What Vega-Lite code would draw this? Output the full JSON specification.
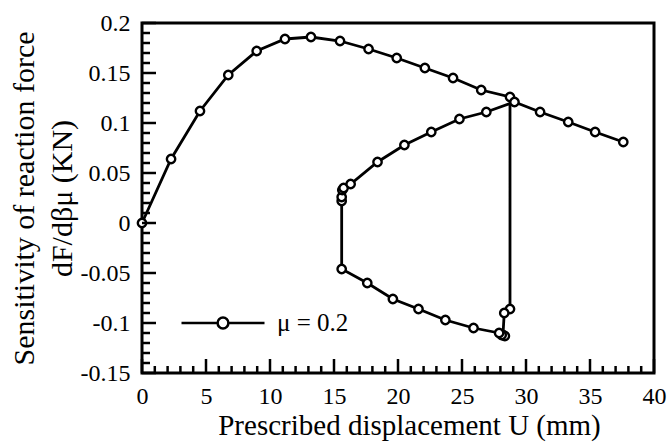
{
  "$schema": "https://vega.github.io/schema/vega-lite/v6.json",
  "autosize": "none",
  "padding": {"left": 142, "top": 23, "right": 16, "bottom": 69},
  "width": 512,
  "height": 350,
  "background": "white",
  "config": {
    "view": {"stroke": "black", "strokeWidth": 3, "fill": null},
    "font": "Liberation Serif",
    "axis": {"domain": false, "ticks": false, "labelColor": "black", "titleColor": "black", "grid": false, "labelFont": "Liberation Serif", "titleFont": "Liberation Serif", "titleFontWeight": "normal"}
  },
  "datasets": {
    "curve": [
      {"order": 1, "u": 0, "s": 0, "series": "μ = 0.2"},
      {"order": 2, "u": 2.27, "s": 0.064, "series": "μ = 0.2"},
      {"order": 3, "u": 4.53, "s": 0.112, "series": "μ = 0.2"},
      {"order": 4, "u": 6.74, "s": 0.148, "series": "μ = 0.2"},
      {"order": 5, "u": 8.96, "s": 0.172, "series": "μ = 0.2"},
      {"order": 6, "u": 11.17, "s": 0.184, "series": "μ = 0.2"},
      {"order": 7, "u": 13.2, "s": 0.186, "series": "μ = 0.2"},
      {"order": 8, "u": 15.47, "s": 0.182, "series": "μ = 0.2"},
      {"order": 9, "u": 17.7, "s": 0.174, "series": "μ = 0.2"},
      {"order": 10, "u": 19.9, "s": 0.165, "series": "μ = 0.2"},
      {"order": 11, "u": 22.1, "s": 0.155, "series": "μ = 0.2"},
      {"order": 12, "u": 24.3, "s": 0.145, "series": "μ = 0.2"},
      {"order": 13, "u": 26.5, "s": 0.133, "series": "μ = 0.2"},
      {"order": 14, "u": 28.75, "s": 0.126, "series": "μ = 0.2"},
      {"order": 15, "u": 28.75, "s": -0.086, "series": "μ = 0.2"},
      {"order": 16, "u": 28.3, "s": -0.09, "series": "μ = 0.2"},
      {"order": 17, "u": 28.2, "s": -0.112, "series": "μ = 0.2"},
      {"order": 18, "u": 28.35, "s": -0.113, "series": "μ = 0.2"},
      {"order": 19, "u": 28.1, "s": -0.112, "series": "μ = 0.2"},
      {"order": 20, "u": 27.9, "s": -0.11, "series": "μ = 0.2"},
      {"order": 21, "u": 25.9, "s": -0.105, "series": "μ = 0.2"},
      {"order": 22, "u": 23.7, "s": -0.097, "series": "μ = 0.2"},
      {"order": 23, "u": 21.6, "s": -0.086, "series": "μ = 0.2"},
      {"order": 24, "u": 19.6, "s": -0.076, "series": "μ = 0.2"},
      {"order": 25, "u": 17.6, "s": -0.06, "series": "μ = 0.2"},
      {"order": 26, "u": 15.6, "s": -0.046, "series": "μ = 0.2"},
      {"order": 27, "u": 15.6, "s": 0.022, "series": "μ = 0.2"},
      {"order": 28, "u": 15.6, "s": 0.026, "series": "μ = 0.2"},
      {"order": 29, "u": 15.65, "s": 0.033, "series": "μ = 0.2"},
      {"order": 30, "u": 15.75, "s": 0.035, "series": "μ = 0.2"},
      {"order": 31, "u": 16.3, "s": 0.039, "series": "μ = 0.2"},
      {"order": 32, "u": 18.4, "s": 0.061, "series": "μ = 0.2"},
      {"order": 33, "u": 20.5, "s": 0.078, "series": "μ = 0.2"},
      {"order": 34, "u": 22.6, "s": 0.091, "series": "μ = 0.2"},
      {"order": 35, "u": 24.8, "s": 0.104, "series": "μ = 0.2"},
      {"order": 36, "u": 26.9, "s": 0.111, "series": "μ = 0.2"},
      {"order": 37, "u": 29.1, "s": 0.121, "series": "μ = 0.2"},
      {"order": 38, "u": 31.1, "s": 0.111, "series": "μ = 0.2"},
      {"order": 39, "u": 33.3, "s": 0.101, "series": "μ = 0.2"},
      {"order": 40, "u": 35.4, "s": 0.091, "series": "μ = 0.2"},
      {"order": 41, "u": 37.6, "s": 0.081, "series": "μ = 0.2"}
    ],
    "xmajor": [{"v": 0}, {"v": 5}, {"v": 10}, {"v": 15}, {"v": 20}, {"v": 25}, {"v": 30}, {"v": 35}, {"v": 40}],
    "xminor": [{"v": 1}, {"v": 2}, {"v": 3}, {"v": 4}, {"v": 6}, {"v": 7}, {"v": 8}, {"v": 9}, {"v": 11}, {"v": 12}, {"v": 13}, {"v": 14}, {"v": 16}, {"v": 17}, {"v": 18}, {"v": 19}, {"v": 21}, {"v": 22}, {"v": 23}, {"v": 24}, {"v": 26}, {"v": 27}, {"v": 28}, {"v": 29}, {"v": 31}, {"v": 32}, {"v": 33}, {"v": 34}, {"v": 36}, {"v": 37}, {"v": 38}, {"v": 39}],
    "ymajor": [{"v": -0.15}, {"v": -0.1}, {"v": -0.05}, {"v": 0}, {"v": 0.05}, {"v": 0.1}, {"v": 0.15}, {"v": 0.2}],
    "yminor": [{"v": -0.14}, {"v": -0.13}, {"v": -0.12}, {"v": -0.11}, {"v": -0.09}, {"v": -0.08}, {"v": -0.07}, {"v": -0.06}, {"v": -0.04}, {"v": -0.03}, {"v": -0.02}, {"v": -0.01}, {"v": 0.01}, {"v": 0.02}, {"v": 0.03}, {"v": 0.04}, {"v": 0.06}, {"v": 0.07}, {"v": 0.08}, {"v": 0.09}, {"v": 0.11}, {"v": 0.12}, {"v": 0.13}, {"v": 0.14}, {"v": 0.16}, {"v": 0.17}, {"v": 0.18}, {"v": 0.19}]
  },
  "layer": [
    {
      "data": {"name": "curve"},
      "mark": {"type": "line", "strokeWidth": 2.8, "point": {"filled": false, "fill": "white", "size": 70, "strokeWidth": 2.4, "color": "black"}},
      "encoding": {
        "x": {
          "field": "u", "type": "quantitative",
          "scale": {"domain": [0, 40], "nice": false, "zero": false},
          "axis": {
            "orient": "bottom",
            "title": "Prescribed displacement U (mm)",
            "titleFontSize": 29,
            "titlePadding": 3,
            "titleX": 267,
            "labelFontSize": 24,
            "values": [0, 5, 10, 15, 20, 25, 30, 35, 40],
            "labelFlush": false,
            "labelOverlap": false,
            "labelBound": false,
            "labelPadding": 11
          }
        },
        "y": {
          "field": "s", "type": "quantitative",
          "scale": {"domain": [-0.15, 0.2], "nice": false, "zero": false},
          "axis": {
            "orient": "left",
            "title": ["Sensitivity of reaction force", "dF/dβμ (KN)"],
            "titleFontSize": 30,
            "titleLineHeight": 38,
            "titlePadding": 3,
            "labelFontSize": 24,
            "values": [-0.15, -0.1, -0.05, 0, 0.05, 0.1, 0.15, 0.2],
            "labelExpr": "replace(format(datum.value, '~g'), '−', '-')",
            "labelOverlap": false,
            "labelBound": false,
            "labelFlush": false,
            "labelPadding": 12
          }
        },
        "order": {"field": "order", "type": "quantitative"},
        "color": {
          "field": "series", "type": "nominal",
          "scale": {"range": ["black"]},
          "legend": {
            "title": null,
            "orient": "none",
            "legendX": 38,
            "legendY": 257,
            "symbolType": "M-1,0H-0.13M0.13,0H1M-0.13,0A0.13,0.13,0,1,1,0.13,0A0.13,0.13,0,1,1,-0.13,0",
            "symbolSize": 6889,
            "symbolStrokeWidth": 2.5,
            "symbolStrokeColor": "black",
            "symbolFillColor": "white",
            "labelFont": "Liberation Serif",
            "labelFontSize": 25,
            "labelColor": "black",
            "labelOffset": 11,
            "padding": 0
          }
        }
      }
    },
    {
      "data": {"name": "ymajor"},
      "mark": {"type": "tick", "orient": "horizontal", "color": "black", "opacity": 1, "thickness": 2.5, "size": 14, "xOffset": 7},
      "encoding": {
        "y": {"field": "v", "type": "quantitative", "scale": {"domain": [-0.15, 0.2], "nice": false, "zero": false}},
        "x": {"datum": 0, "type": "quantitative", "scale": {"domain": [0, 40], "nice": false, "zero": false}}
      }
    },
    {
      "data": {"name": "yminor"},
      "mark": {"type": "tick", "orient": "horizontal", "color": "black", "opacity": 1, "thickness": 2.5, "size": 8, "xOffset": 4},
      "encoding": {
        "y": {"field": "v", "type": "quantitative", "scale": {"domain": [-0.15, 0.2], "nice": false, "zero": false}},
        "x": {"datum": 0, "type": "quantitative", "scale": {"domain": [0, 40], "nice": false, "zero": false}}
      }
    },
    {
      "data": {"name": "xmajor"},
      "mark": {"type": "tick", "orient": "vertical", "color": "black", "opacity": 1, "thickness": 2.5, "size": 14, "yOffset": -7},
      "encoding": {
        "x": {"field": "v", "type": "quantitative", "scale": {"domain": [0, 40], "nice": false, "zero": false}},
        "y": {"datum": -0.15, "type": "quantitative", "scale": {"domain": [-0.15, 0.2], "nice": false, "zero": false}}
      }
    },
    {
      "data": {"name": "xminor"},
      "mark": {"type": "tick", "orient": "vertical", "color": "black", "opacity": 1, "thickness": 2.5, "size": 7, "yOffset": -3.5},
      "encoding": {
        "x": {"field": "v", "type": "quantitative", "scale": {"domain": [0, 40], "nice": false, "zero": false}},
        "y": {"datum": -0.15, "type": "quantitative", "scale": {"domain": [-0.15, 0.2], "nice": false, "zero": false}}
      }
    }
  ]
}
